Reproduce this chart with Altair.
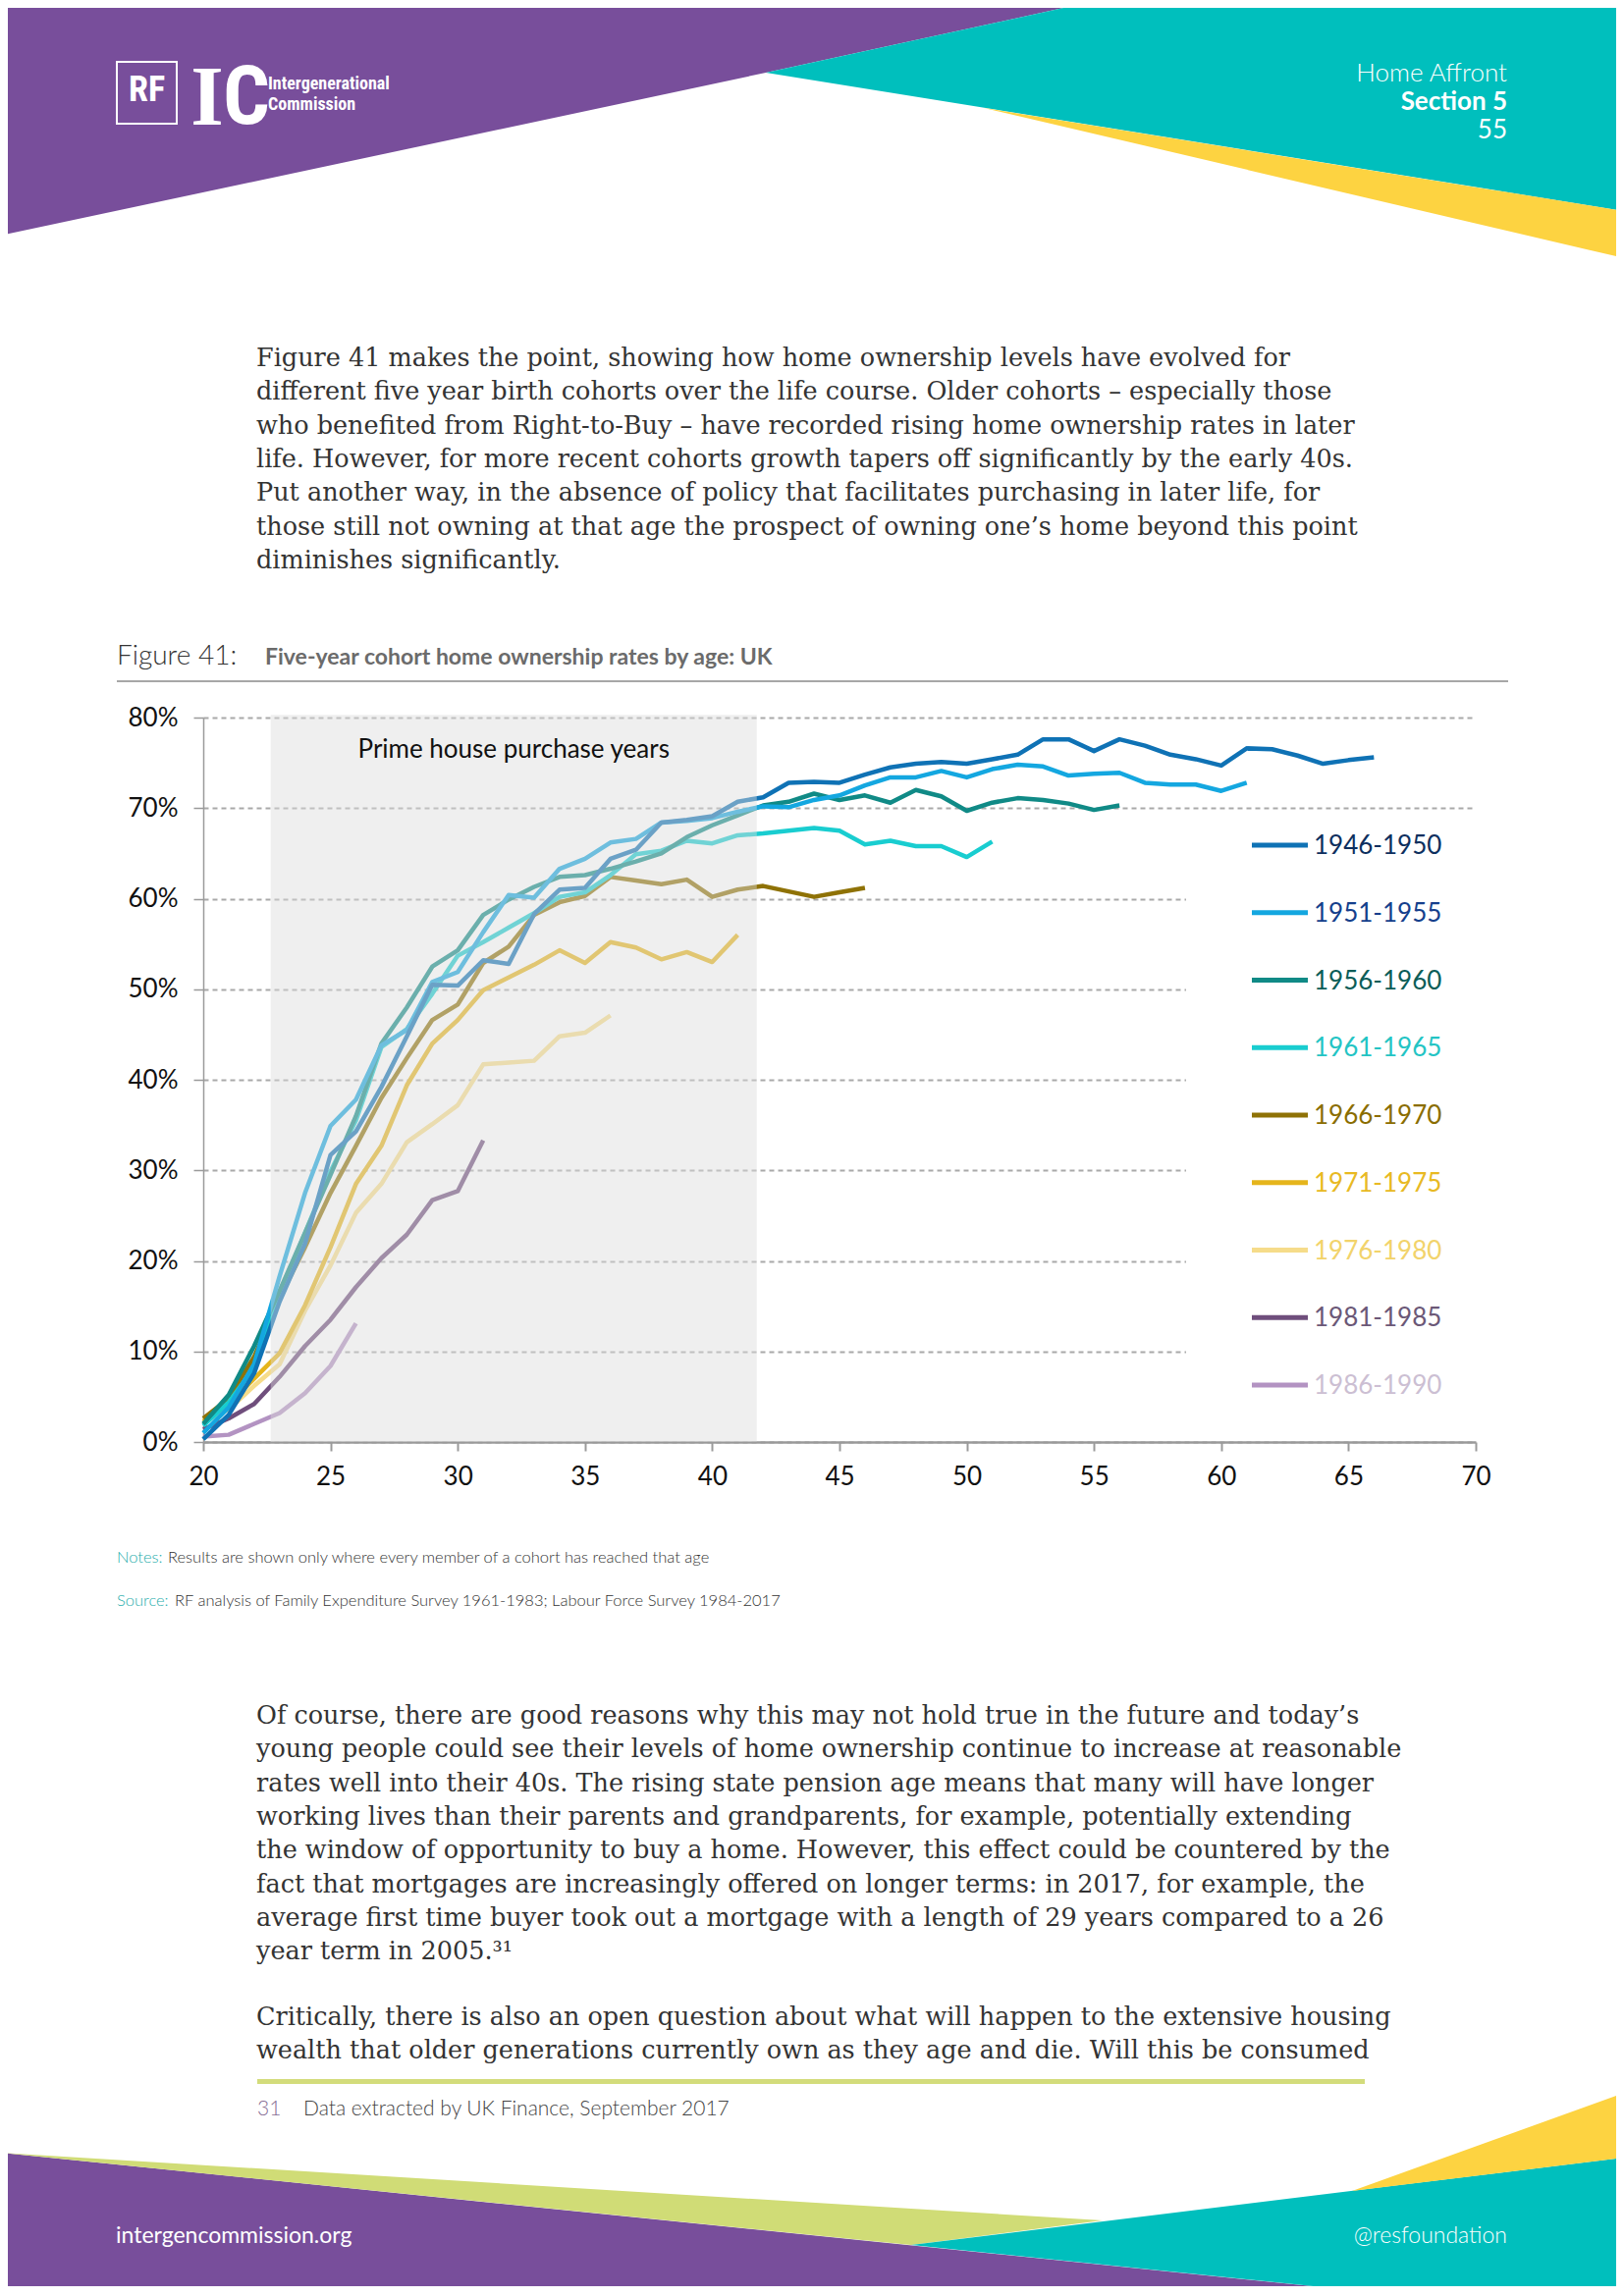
import altair as alt
import pandas as pd

# ---------------- data ----------------
AGE_START = 20
cohorts = ["1946-1950", "1951-1955", "1956-1960", "1961-1965", "1966-1970",
           "1971-1975", "1976-1980", "1981-1985", "1986-1990"]

v4650 = [0.3, 3.0, 7.6, 15.5, 21.9, 31.7, 34.3, 39.2, 44.8, 50.5,
         50.4, 53.2, 52.8, 58.3, 61.0, 61.2, 64.4, 65.4, 68.4, 68.7,
         69.1, 70.7, 71.2, 72.8, 72.9, 72.8, 73.7, 74.5, 74.9, 75.1,
         74.9, 75.4, 75.9, 77.6, 77.6, 76.3, 77.6, 76.9, 75.9, 75.4,
         74.7, 76.6, 76.5, 75.8, 74.9, 75.3, 75.6]
v5155 = [1.0, 3.8, 8.6, 18.3, 27.5, 34.9, 37.8, 43.8, 45.5, 50.8,
         51.9, 56.3, 60.4, 60.1, 63.3, 64.4, 66.2, 66.6, 68.4, 68.6,
         68.9, 69.6, 70.2, 70.1, 70.9, 71.4, 72.5, 73.4, 73.4, 74.1,
         73.4, 74.3, 74.8, 74.6, 73.6, 73.8, 73.9, 72.8, 72.6, 72.6,
         71.9, 72.8]
v5660 = [2.0, 5.2, 10.6, 16.7, 23.1, 29.5, 36.0, 44.0, 48.0, 52.5,
         54.3, 58.2, 59.9, 61.3, 62.4, 62.6, 63.3, 64.1, 65.0, 66.8,
         68.1, 69.2, 70.3, 70.7, 71.6, 70.9, 71.4, 70.6, 72.0, 71.3,
         69.7, 70.6, 71.1, 70.9, 70.5, 69.8, 70.3]
v6165 = [1.8, 4.4, 8.2, 16.3, 23.1, 29.9, 35.5, 43.6, 45.6, 49.5,
         53.7, 55.2, 56.8, 58.4, 60.2, 60.7, 62.6, 64.9, 65.3, 66.4,
         66.1, 67.0, 67.2, 67.5, 67.8, 67.5, 66.0, 66.4, 65.8, 65.8,
         64.6, 66.3]
v6670 = [2.6, 4.8, 9.4, 15.9, 21.5, 27.5, 32.7, 38.0, 42.4, 46.6,
         48.3, 52.9, 54.7, 58.2, 59.6, 60.3, 62.4, 62.0, 61.6, 62.1,
         60.2, 61.0, 61.4, 60.8, 60.2, 60.7, 61.2]
v7175 = [2.3, 4.2, 7.0, 9.8, 15.1, 21.5, 28.5, 32.7, 39.4, 44.0,
         46.6, 49.9, 51.3, 52.7, 54.3, 52.9, 55.2, 54.6, 53.3, 54.1,
         53.0, 56.0]
v7680 = [2.2, 3.6, 6.2, 8.6, 14.5, 19.5, 25.3, 28.5, 33.1, 35.1,
         37.2, 41.7, 41.9, 42.1, 44.8, 45.2, 47.1]
v8185 = [1.4, 2.6, 4.2, 7.2, 10.6, 13.5, 17.1, 20.3, 22.9, 26.7,
         27.7, 33.3]
v8690 = [0.6, 0.8, 2.0, 3.2, 5.4, 8.4, 13.1]
series = [v4650, v5155, v5660, v6165, v6670, v7175, v7680, v8185, v8690]

line_colors = ["#0f72b5", "#14a7e0", "#108a86", "#19cdd0", "#8f7206",
               "#e5b51c", "#f6dc8a", "#6f4e7c", "#b393c2"]
label_colors = ["#0d2f5e", "#153f8c", "#0b5d58", "#23c4c4", "#8a6d00",
                "#e8b923", "#f2d36b", "#6b5877", "#ccbfd3"]

x_ticks = [20, 25, 30, 35, 40, 45, 50, 55, 60, 65, 70]
y_ticks = [0, 0.1, 0.2, 0.3, 0.4, 0.5, 0.6, 0.7, 0.8]
shade_start, shade_end = 22.65, 41.75
shade_label = "Prime house purchase years"

rows = []
for name, vals in reversed(list(zip(cohorts, series))):
    for i, v in enumerate(vals):
        rows.append({"cohort": name, "age": AGE_START + i, "share": v / 100.0})
df = pd.DataFrame(rows)

# ---------------- page geometry ----------------
W, H = 1296, 738          # plot area
X0, Y0 = 207, 731         # page position of plot origin
PX = alt.Scale(domain=[X0, X0 + W], nice=False, zero=False)
PY = alt.Scale(domain=[Y0, Y0 + H], nice=False, zero=False, reverse=True)
SANS = "Lato, 'Open Sans', sans-serif"
NARROW = "'Liberation Sans Narrow', 'Roboto Condensed', 'Liberation Sans', sans-serif"
SERIF = "'DejaVu Serif', serif"


def texts(items, **style):
    d = pd.DataFrame(items, columns=["px", "py", "text"])
    st = dict(baseline="alphabetic", align="left")
    st.update(style)
    return alt.Chart(d).mark_text(**st).encode(
        x=alt.X("px:Q", scale=PX, axis=None),
        y=alt.Y("py:Q", scale=PY, axis=None),
        text="text:N")


# decorative page shapes (header/footer bands)
decor = [
    ("hp", "#784e9b", [(0, 0, 240), (780, 0, 74), (1120, 0, 0)]),
    ("ht", "#00bfbd", [(780, 74, 74), (1120, 0, 128.8), (1654, 0, 215)]),
    ("hy", "#fdd341", [(1002, 110, 110), (1654, 215, 263)]),
    ("fp", "#784e9b", [(0, 2193, 2339), (1435, 2339, 2339)]),
    ("fg", "#d0dc76", [(0, 2193, 2193), (928, 2250, 2287), (1123, 2262, 2262)]),
    ("ft", "#00bfbd", [(928, 2287, 2287), (1435, 2224.8, 2339), (1654, 2198, 2339)]),
    ("fy", "#fdd341", [(1377, 2232, 2232), (1654, 2132, 2198)]),
]
drows = []
for sid, col, pts in decor:
    for (x, t, b) in pts:
        drows.append({"shape": sid, "fill": col, "px": x, "top": t, "bottom": b})
decor_df = pd.DataFrame(drows)
shapes = alt.Chart(decor_df).mark_area(strokeWidth=0).encode(
    x=alt.X("px:Q", scale=PX, axis=None),
    y=alt.Y("top:Q", scale=PY, axis=None),
    y2="bottom:Q",
    color=alt.Color("fill:N", scale=None),
    detail="shape:N")

rf_box = alt.Chart(pd.DataFrame([{"px": 119, "px2": 180, "py": 63, "py2": 126}])).mark_rect(
    filled=False, stroke="white", strokeWidth=2).encode(
    x=alt.X("px:Q", scale=PX, axis=None), x2="px2:Q",
    y=alt.Y("py:Q", scale=PY, axis=None), y2="py2:Q")

rules_df = pd.DataFrame([
    {"px": 119, "px2": 1536, "py": 694, "col": "#8a8a8a", "w": 1.6},
    {"px": 262, "px2": 1390, "py": 2120.5, "col": "#d3dc7b", "w": 5},
])
rules = alt.Chart(rules_df).mark_rule().encode(
    x=alt.X("px:Q", scale=PX, axis=None), x2="px2:Q",
    y=alt.Y("py:Q", scale=PY, axis=None),
    color=alt.Color("col:N", scale=None),
    size=alt.Size("w:Q", scale=None))

# legend (drawn as page elements)
LEG_Y0, LEG_DY = 861, 68.75
leg_df = pd.DataFrame([{"cohort": c, "px": 1275, "px2": 1332, "ptext": 1338,
                        "py": LEG_Y0 + LEG_DY * i, "lc": line_colors[i], "tc": label_colors[i]}
                       for i, c in enumerate(cohorts)])
leg_bg = alt.Chart(pd.DataFrame([{"px": 1208, "px2": 1500, "py": 838, "py2": 1442}])).mark_rect(
    color="white").encode(
    x=alt.X("px:Q", scale=PX, axis=None), x2="px2:Q",
    y=alt.Y("py:Q", scale=PY, axis=None), y2="py2:Q")
leg_lines = alt.Chart(leg_df).mark_rule(strokeWidth=5).encode(
    x=alt.X("px:Q", scale=PX, axis=None), x2="px2:Q",
    y=alt.Y("py:Q", scale=PY, axis=None),
    color=alt.Color("lc:N", scale=None))
leg_text = alt.Chart(leg_df).mark_text(align="left", baseline="middle", font=SANS,
                                        fontSize=26, dy=1).encode(
    x=alt.X("ptext:Q", scale=PX, axis=None),
    y=alt.Y("py:Q", scale=PY, axis=None),
    text="cohort:N",
    color=alt.Color("tc:N", scale=None))

# page texts
para1 = [
    "Figure 41 makes the point, showing how home ownership levels have evolved for",
    "different five year birth cohorts over the life course. Older cohorts \u2013 especially those",
    "who benefited from Right-to-Buy \u2013 have recorded rising home ownership rates in later",
    "life. However, for more recent cohorts growth tapers off significantly by the early 40s.",
    "Put another way, in the absence of policy that facilitates purchasing in later life, for",
    "those still not owning at that age the prospect of owning one\u2019s home beyond this point",
    "diminishes significantly.",
]
para2 = [
    "Of course, there are good reasons why this may not hold true in the future and today\u2019s",
    "young people could see their levels of home ownership continue to increase at reasonable",
    "rates well into their 40s. The rising state pension age means that many will have longer",
    "working lives than their parents and grandparents, for example, potentially extending",
    "the window of opportunity to buy a home. However, this effect could be countered by the",
    "fact that mortgages are increasingly offered on longer terms: in 2017, for example, the",
    "average first time buyer took out a mortgage with a length of 29 years compared to a 26",
    "year term in 2005.\u00b3\u00b9",
]
para3 = [
    "Critically, there is also an open question about what will happen to the extensive housing",
    "wealth that older generations currently own as they age and die. Will this be consumed",
]
LEAD = 34.3
body_items = ([(261, 373 + LEAD * i, t) for i, t in enumerate(para1)]
              + [(261, 1756 + LEAD * i, t) for i, t in enumerate(para2)]
              + [(261, 2063 + LEAD * i, t) for i, t in enumerate(para3)])
body = texts(body_items, font=SERIF, fontSize=25.5, color="#333333")

hdr_light = texts([(1535, 83, "Home Affront")], align="right", font=SANS, fontSize=26,
                  fontWeight=300, color="white")
hdr_bold = texts([(1535, 112, "Section 5")], align="right", font=SANS, fontSize=26,
                 fontWeight="bold", color="white")
hdr_num = texts([(1535, 141, "55")], align="right", font=SANS, fontSize=26, color="white")
logo_rf = texts([(149.5, 103, "RF")], align="center", font=NARROW, fontSize=36,
                fontWeight="bold", color="white")
logo_i = texts([(211, 127, "I")], align="center", font="'Liberation Serif', serif",
               fontSize=86, fontWeight="bold", color="white")
logo_c = texts([(251, 126, "C")], align="center", font=NARROW, fontSize=84,
               fontWeight="bold", color="white")
logo_txt = texts([(273, 91, "Intergenerational"), (273, 112, "Commission")], font=NARROW,
                 fontSize=18, fontWeight="bold", color="white")

fig_no = texts([(119, 677, "Figure 41:")], font=SANS, fontSize=28, fontWeight=300,
               color="#333333")
fig_title = texts([(270, 677, "Five-year cohort home ownership rates by age: UK")], font=SANS,
                  fontSize=23, fontWeight="bold", color="#6b6b6b")
notes_lbl = texts([(119, 1592, "Notes:"), (119, 1636, "Source:")], font=SANS, fontSize=16.5,
                  fontWeight=300, color="#2aaeac")
notes_txt = texts([(171, 1592, "Results are shown only where every member of a cohort has reached that age"),
                   (178, 1636, "RF analysis of Family Expenditure Survey 1961-1983; Labour Force Survey 1984-2017")],
                  font=SANS, fontSize=16.5, fontWeight=300, color="#333333")
fn_num = texts([(262, 2155, "31")], font=SANS, fontSize=21, fontWeight=300, color="#866d94")
fn_txt = texts([(309, 2155, "Data extracted by UK Finance, September 2017")], font=SANS,
               fontSize=21, fontWeight=300, color="#444444")
foot_l = texts([(118, 2285, "intergencommission.org")], font=SANS, fontSize=23, color="white")
foot_r = texts([(1535, 2285, "@resfoundation")], align="right", font=SANS, fontSize=23,
               fontWeight=300, color="white")

page = alt.layer(shapes, rf_box, rules, leg_bg, leg_lines, leg_text, body, hdr_light, hdr_bold,
                 hdr_num, logo_rf, logo_i, logo_c, logo_txt, fig_no, fig_title, notes_lbl,
                 notes_txt, fn_num, fn_txt, foot_l, foot_r)

# ---------------- main chart ----------------
XS = alt.Scale(domain=[20, 70], nice=False, zero=False)
YS = alt.Scale(domain=[0, 0.8], nice=False)
AX = alt.Axis(values=x_ticks, grid=False, title=None, domainColor="#9a9a9a", domainWidth=2.5,
              tickColor="#9a9a9a", tickSize=9, tickWidth=2, labelPadding=13,
              labelFont=SANS, labelFontSize=26, labelColor="#111111", labelFlush=False)
AY = alt.Axis(values=y_ticks, format=".0%", grid=True, title=None, gridDash=[5, 4],
              gridColor="#a9a9a9", gridWidth=2, domainColor="#9a9a9a",
              domainWidth=1.5, tickColor="#9a9a9a", tickSize=10, tickWidth=1.5,
              labelPadding=16, labelFont=SANS, labelFontSize=26, labelColor="#111111")

lines = alt.Chart(df).mark_line(strokeWidth=4.5, strokeJoin="round").encode(
    x=alt.X("age:Q", scale=XS, axis=AX),
    y=alt.Y("share:Q", scale=YS, axis=AY),
    color=alt.Color("cohort:N", scale=alt.Scale(domain=cohorts, range=line_colors), legend=None),
    order=alt.Order("age:Q"),
)

shade = alt.Chart(pd.DataFrame([{"a": shade_start, "b": shade_end, "lo": 0.0, "hi": 0.803}])).mark_rect(
    color="#dcdcdc", opacity=0.45).encode(
    x=alt.X("a:Q", scale=XS, axis=AX), x2="b:Q",
    y=alt.Y("lo:Q", scale=YS, axis=AY), y2="hi:Q")

shade_txt = alt.Chart(pd.DataFrame([{"a": (shade_start + shade_end) / 2, "v": 0.7555,
                                     "t": shade_label}])).mark_text(
    font=SANS, fontSize=26, color="#111111", baseline="alphabetic", align="center").encode(
    x=alt.X("a:Q", scale=XS, axis=AX), y=alt.Y("v:Q", scale=YS, axis=AY), text="t:N")

main = alt.layer(lines, shade, shade_txt)

chart = alt.layer(page, main).resolve_scale(
    x="independent", y="independent", color="independent", size="independent"
).properties(
    width=W, height=H,
    autosize=alt.AutoSizeParams(type="none"),
    padding={"left": X0 - 8, "top": Y0 - 8, "right": 1654 - 16 - (X0 - 8) - W,
             "bottom": 2339 - 18 - (Y0 - 8) - H},
    background="white",
).configure_view(stroke=None)

chart.save("out.html", embed_options={"renderer": "svg", "actions": False})
